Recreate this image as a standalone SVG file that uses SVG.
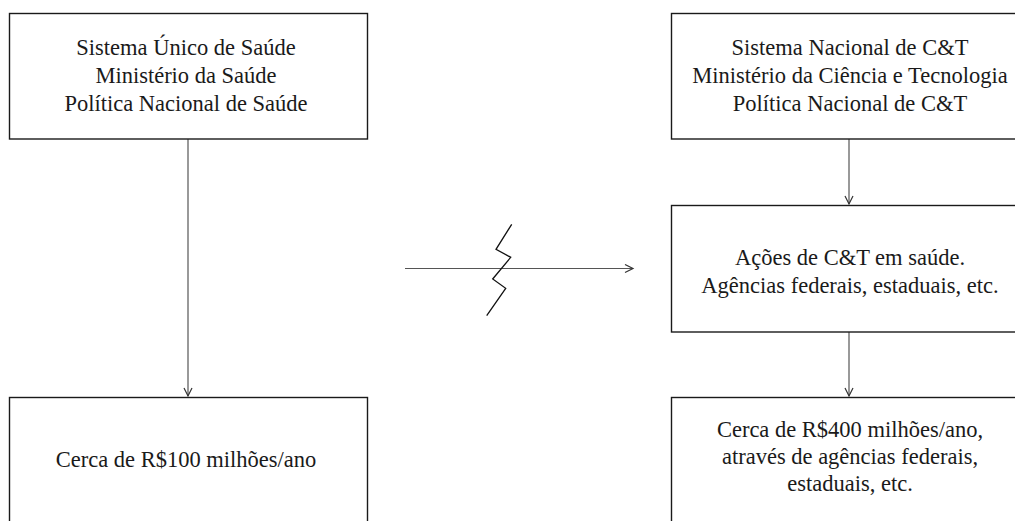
<svg xmlns="http://www.w3.org/2000/svg" width="1015" height="521" viewBox="0 0 1015 521">
<defs>
<style>
.box{fill:#fff;stroke:#1a1a1a;stroke-width:1.4}
.t{font-family:"Liberation Serif","Times New Roman",serif;font-size:22.5px;fill:#1a1a1a;text-anchor:middle}
.conn{stroke:#555;stroke-width:1.2;fill:none}
.zz{stroke:#111;stroke-width:1.3;fill:none}
</style>
<marker id="ah" markerWidth="12" markerHeight="10" refX="9" refY="5" orient="auto" markerUnits="userSpaceOnUse">
<path d="M1,1 L9,5 L1,9" fill="none" stroke="#333" stroke-width="1.2"/>
</marker>
</defs>
<rect width="1015" height="521" fill="#fff"/>
<g id="connectors">
<line class="conn" x1="188" y1="139" x2="188" y2="396" marker-end="url(#ah)"/>
<line class="conn" x1="849" y1="139" x2="849" y2="204" marker-end="url(#ah)"/>
<line class="conn" x1="849" y1="332" x2="849" y2="396" marker-end="url(#ah)"/>
<line class="conn" x1="405" y1="268.5" x2="633" y2="268.5" marker-end="url(#ah)"/>
<polyline class="zz" points="511.7,224.3 496,249.3 510.7,257.3 492.7,279 505.7,288.3 486.7,315.7"/>
</g>
<g id="sus">
<rect class="box" x="9.5" y="13.5" width="358" height="125.5"/>
<text class="t" x="186" y="55">Sistema Único de Saúde</text>
<text class="t" x="186" y="83">Ministério da Saúde</text>
<text class="t" x="186" y="111">Política Nacional de Saúde</text>
</g>
<g id="sus-valor">
<rect class="box" x="9.5" y="397.5" width="358" height="140"/>
<text class="t" x="186" y="467">Cerca de R$100 milhões/ano</text>
</g>
<g id="snct">
<rect class="box" x="671.5" y="13.5" width="360" height="125.5"/>
<text class="t" x="850" y="55">Sistema Nacional de C&amp;T</text>
<text class="t" x="850" y="83">Ministério da Ciência e Tecnologia</text>
<text class="t" x="850" y="111">Política Nacional de C&amp;T</text>
</g>
<g id="acoes">
<rect class="box" x="671.5" y="205.5" width="360" height="126.5"/>
<text class="t" x="850" y="265">Ações de C&amp;T em saúde.</text>
<text class="t" x="850" y="293">Agências federais, estaduais, etc.</text>
</g>
<g id="snct-valor">
<rect class="box" x="671.5" y="397.5" width="360" height="140"/>
<text class="t" x="850" y="437">Cerca de R$400 milhões/ano,</text>
<text class="t" x="850" y="464">através de agências federais,</text>
<text class="t" x="850" y="491">estaduais, etc.</text>
</g>
</svg>
